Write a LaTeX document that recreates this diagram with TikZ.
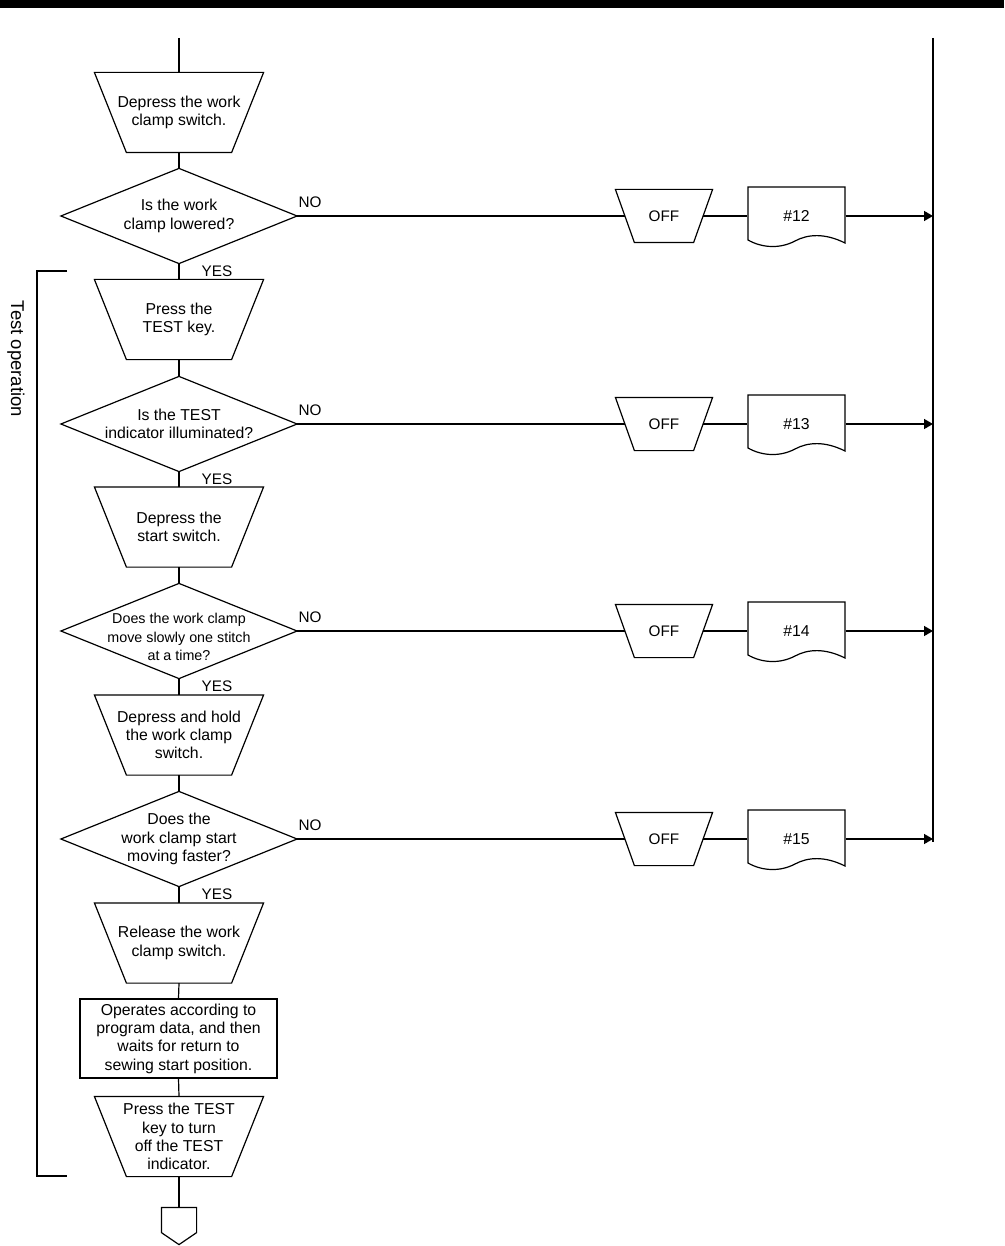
\documentclass[tikz,border=0pt]{standalone}
\usepackage{fontspec}
\setmainfont{Liberation Sans}
\usetikzlibrary{arrows.meta,calc}
\newcommand\trapout[2]{\draw ([xshift=-#2]#1.north west) -- ([xshift=#2]#1.north east) -- ([xshift=-#2]#1.south east) -- ([xshift=#2]#1.south west) -- cycle;}
\newcommand\diaout[1]{\draw (#1.north) -- (#1.east) -- (#1.south) -- (#1.west) -- cycle;}
\newcommand\docout[1]{\begin{scope}[shift={(#1.center)}]\draw (-48.5,-29) -- (48.5,-29) -- (48.5,27) .. controls (28.5,17) and (11.5,18) .. (-1.5,25) .. controls (-16.5,33) and (-34.5,32) .. (-48.5,24) -- cycle;\end{scope}}
\newcommand\connout[1]{\draw (#1.north west) -- (#1.north east) -- ([yshift=12pt]#1.south east) -- (#1.south) -- ([yshift=12pt]#1.south west) -- cycle;}
\tikzset{
  stepbox/.style={rectangle, minimum width=136pt, minimum height=79pt, align=center},
  decbox/.style={rectangle, minimum width=235pt, minimum height=94pt, align=center},
  offbox/.style={rectangle, minimum width=77pt, minimum height=52pt, font=\fontsize{15.3}{18}\selectfont},
  docbox/.style={rectangle, minimum width=97pt, minimum height=58pt},
  procbox/.style={rectangle, draw, minimum width=197pt, minimum height=79pt, align=center},
  lbl/.style={font=\fontsize{15.3}{18}\selectfont},
  arr/.style={-{Triangle[length=9pt,width=10pt]}, line width=1.4pt},
  hline/.style={line width=1.4pt},
  bus/.style={line width=2pt},
}
\begin{document}
\begin{tikzpicture}[x=1pt,y=-1pt, line width=1.2pt,
  every node/.style={inner sep=0pt, font=\fontsize{15.8}{18.3}\selectfont}]
\useasboundingbox (0,0) rectangle (1004,1246);
\fill[black] (0,0) rectangle (1004,8);

% main column
\coordinate (start) at (179,38);
\node[stepbox] (t1) at (179,112.5) {Depress the work\\clamp switch.};
\node[decbox] (d1) at (179,216) {Is the work\\clamp lowered?};
\node[stepbox] (t2) at (179,319.5) {Press the\\TEST key.};
\node[decbox] (d2) at (179,424) {Is the TEST\\indicator illuminated?};
\node[stepbox] (t3) at (179,527) {Depress the\\start switch.};
\node[decbox] (d3) at (179,631) {};
\node[align=center, font=\fontsize{14.3}{18.3}\selectfont] (d3text) at (179,637) {Does the work clamp\\move slowly one stitch\\at a time?};
\node[stepbox] (t4) at (179,735) {Depress and hold\\the work clamp\\switch.};
\node[decbox] (d4) at (179,839) {Does the\\work clamp start\\moving faster?};
\node[stepbox] (t5) at (179,943) {Release the work\\clamp switch.};
\node[procbox] (proc) at (178.5,1038.5) {Operates according to\\program data, and then\\waits for return to\\sewing start position.};
\node[stepbox] (t6) at (179,1136.5) {Press the TEST\\key to turn\\off the TEST\\indicator.};
\node[rectangle, minimum width=34pt, minimum height=36pt] (endc) at (179,1226) {};

\trapout{t1}{16pt}\trapout{t2}{16pt}\trapout{t3}{16pt}
\trapout{t4}{16pt}\trapout{t5}{16pt}\trapout{t6}{16pt}
\diaout{d1}\diaout{d2}\diaout{d3}\diaout{d4}
\connout{endc}

\draw (start) -- (t1.north);
\draw (t1.south) -- (d1.north);
\draw (d1.south) -- (t2.north);
\draw (t2.south) -- (d2.north);
\draw (d2.south) -- (t3.north);
\draw (t3.south) -- (d3.north);
\draw (d3.south) -- (t4.north);
\draw (t4.south) -- (d4.north);
\draw (d4.south) -- (t5.north);
\draw (t5.south) -- (proc.north);
\draw (proc.south) -- (t6.north);
\draw (t6.south) -- (endc.north);

% YES / NO labels
\foreach \d in {d1,d2,d3,d4}{
  \node[lbl] (yes\d) at ($(\d.south)+(38,7.5)$) {YES};
  \node[lbl] (no\d) at ($(\d.east)+(13,-14)$) {NO};
}

% right side
\coordinate (bustop) at (933,38);
\coordinate (busbot) at (933,842);
\draw[bus] (bustop) -- (busbot);
\foreach \i/\y/\n in {1/216/12, 2/424/13, 3/631/14, 4/839/15}{
  \node[offbox] (off\i) at (664,\y) {OFF};
  \trapout{off\i}{9.5pt}
  \node[docbox] (doc\i) at (796.5,\y) {\#\n};
  \docout{doc\i}
  \draw[hline] (d\i.east) -- (off\i.west);
  \draw[hline] (off\i.east) -- (doc\i.west);
  \draw[arr] (doc\i.east) -- (doc\i.east -| bustop);
}

% bracket
\draw (67,271) -- (37,271) -- (37,1176) -- (67,1176);
\node[rotate=-90, font=\fontsize{18.5}{22}\selectfont] (testop) at (16,359) {Test operation};
\end{tikzpicture}
\end{document}
